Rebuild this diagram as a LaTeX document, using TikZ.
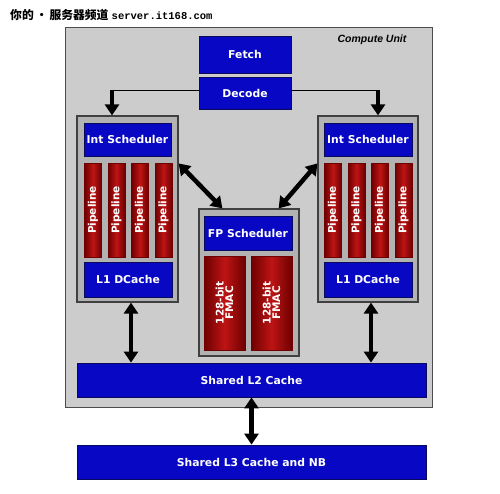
\documentclass[tikz,border=0pt]{standalone}
\usepackage{fontspec}
\setmainfont{DejaVu Sans}
\newfontfamily\cjkfont{Noto Sans CJK SC}
\newfontfamily\urlfont{Liberation Mono}
\newfontfamily\labelfont{Liberation Sans}
\usetikzlibrary{positioning, arrows.meta, calc}

\definecolor{cublue}{RGB}{8,8,196}
\definecolor{cunavy}{RGB}{10,10,90}
\definecolor{pipered}{RGB}{190,20,20}
\definecolor{pipedark}{RGB}{110,0,0}
\definecolor{cugray}{RGB}{204,204,204}
\definecolor{clgray}{RGB}{178,178,178}

\begin{document}
\begin{tikzpicture}[x=1pt, y=-1pt,
  cunit/.style={draw=black!70, line width=1pt, fill=cugray, minimum width=367pt, minimum height=380pt},
  cluster/.style={draw=black!75, line width=1.2pt, fill=clgray},
  bbox/.style={draw=cunavy, line width=0.8pt, fill=cublue, text=white,
               font=\bfseries\fontsize{10.8}{12}\selectfont, align=center, inner sep=1pt},
  rbox/.style={draw=pipedark, line width=0.6pt, left color=pipedark, right color=pipedark,
               middle color=pipered, text=white, rotate=90, align=center,
               font=\bfseries\fontsize{10.5}{9.5}\selectfont, inner sep=0pt},
  arr/.style={{Triangle[length=11pt, width=14pt]}-{Triangle[length=11pt, width=14pt]}, line width=4.5pt, black},
  arrs/.style={-{Triangle[length=11pt, width=14pt]}, line width=4.5pt, black},
  feed/.style={line width=1pt, black},
]
\useasboundingbox (0,0) rectangle (500,493);

% --- Header ---
\node[anchor=west, inner sep=0pt] (head) at (10,15)
  {{\cjkfont\bfseries\fontsize{11.8}{12}\selectfont 你的\,•\,服务器频道}\ {\urlfont\bfseries\fontsize{10.5}{12}\selectfont server.it168.com}};

% --- Compute unit ---
\node[cunit] (cu) at (248.5,217) {};
\node[font=\labelfont\bfseries\itshape\fontsize{10.5}{11}\selectfont] (culbl) at (372,40) {Compute Unit};

% --- Front end ---
\node[bbox, minimum width=92pt, minimum height=37pt] (fetch) at (245,54.5) {Fetch};
\node[bbox, minimum width=92pt, minimum height=32pt] (decode) at (245,93) {Decode};

% --- Left integer cluster ---
\node[cluster, minimum width=101pt, minimum height=186pt] (lclus) at (127.5,209) {};
\node[bbox, minimum width=87pt, minimum height=33pt] (lsched) at (127.5,139.5) {Int Scheduler};
\node[rbox, minimum width=94pt, minimum height=17pt] (lpipe1) at (93,210) {Pipeline};
\node[rbox, minimum width=94pt, minimum height=17pt] (lpipe2) at (116.5,210) {Pipeline};
\node[rbox, minimum width=94pt, minimum height=17pt] (lpipe3) at (140,210) {Pipeline};
\node[rbox, minimum width=94pt, minimum height=17pt] (lpipe4) at (163.5,210) {Pipeline};
\node[bbox, minimum width=88pt, minimum height=35pt] (ldcache) at (128,279.5) {L1 DCache};

% --- Right integer cluster ---
\node[cluster, minimum width=100pt, minimum height=186pt] (rclus) at (368,209) {};
\node[bbox, minimum width=88pt, minimum height=33pt] (rsched) at (368,139.5) {Int Scheduler};
\node[rbox, minimum width=94pt, minimum height=17pt] (rpipe1) at (333,210) {Pipeline};
\node[rbox, minimum width=94pt, minimum height=17pt] (rpipe2) at (356.5,210) {Pipeline};
\node[rbox, minimum width=94pt, minimum height=17pt] (rpipe3) at (380,210) {Pipeline};
\node[rbox, minimum width=94pt, minimum height=17pt] (rpipe4) at (403.5,210) {Pipeline};
\node[bbox, minimum width=88pt, minimum height=35pt] (rdcache) at (368,279.5) {L1 DCache};

% --- Floating point cluster ---
\node[cluster, minimum width=100pt, minimum height=147pt] (fpclus) at (249,282.5) {};
\node[bbox, minimum width=88pt, minimum height=34pt] (fpsched) at (248,233) {FP Scheduler};
\node[rbox, minimum width=94pt, minimum height=41pt] (fmac1) at (224.5,303) {128-bit\\FMAC};
\node[rbox, minimum width=94pt, minimum height=41pt] (fmac2) at (271.5,303) {128-bit\\FMAC};

% --- Caches ---
\node[bbox, minimum width=349pt, minimum height=34pt] (l2) at (251.5,380) {Shared L2 Cache};
\node[bbox, minimum width=349pt, minimum height=34pt] (l3) at (251.5,462) {Shared L3 Cache and NB};

% --- Decode feeds ---
\coordinate (lfeed) at (112,90);
\coordinate (rfeed) at (378,90);
\draw[feed] (decode.west |- lfeed) -- (lfeed);
\draw[feed] (decode.east |- rfeed) -- (rfeed);
\draw[arrs] ([yshift=0.5pt]lfeed) -- (lfeed |- lclus.north);
\draw[arrs] ([yshift=0.5pt]rfeed) -- (rfeed |- rclus.north);

% --- Cluster links ---
\draw[arr] ([yshift=-48pt]lclus.north east) -- ([xshift=24pt]fpclus.north west);
\draw[arr] ([yshift=-48pt]rclus.north west) -- ([xshift=-21pt]fpclus.north east);
\draw[arr] ([xshift=3.5pt]lclus.south) -- ([xshift=3.5pt]lclus.south |- l2.north);
\draw[arr] ([xshift=3pt]rclus.south) -- ([xshift=3pt]rclus.south |- l2.north);
\draw[arr] (l2.south) -- (l3.north);

\end{tikzpicture}
\end{document}
